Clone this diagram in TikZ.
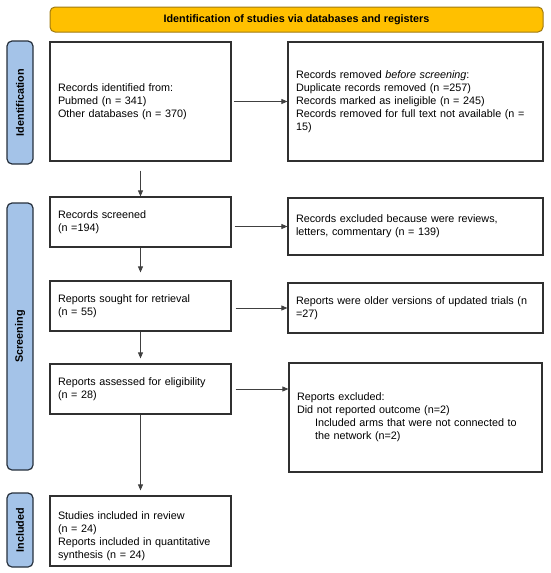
\documentclass[tikz,border=0pt]{standalone}
\usepackage{fontspec}
\setmainfont{Liberation Sans}
\usetikzlibrary{arrows.meta}
\definecolor{bannerfill}{HTML}{FFC000}
\definecolor{bannerline}{HTML}{A07A10}
\definecolor{barfill}{HTML}{A4C3E8}
\definecolor{barline}{HTML}{27313D}
\definecolor{boxline}{HTML}{303030}
\definecolor{arrowline}{HTML}{404040}
\begin{document}
\begin{tikzpicture}[x=1pt,y=-1pt,
  box/.style={draw=boxline, line width=1.2pt, fill=white, inner xsep=8pt, inner ysep=0pt,
    align=left, font=\fontsize{10.8}{13}\selectfont},
  txt/.style={inner sep=0pt, align=left, font=\fontsize{10.8}{13}\selectfont},
  arr/.style={draw=arrowline, line width=0.8pt, -{Triangle[length=6pt,width=5pt]}},
  bar/.style={draw=barline, fill=barfill, line width=1.2pt, rounded corners=5pt,
    minimum height=26pt, inner sep=0pt, font=\bfseries\fontsize{10.8}{12}\selectfont},
  banner/.style={draw=bannerline, fill=bannerfill, line width=1pt, rounded corners=5pt,
    minimum width=493pt, minimum height=25pt, inner sep=0pt,
    font=\bfseries\fontsize{10.8}{12}\selectfont}]
\useasboundingbox (0,0) rectangle (550,573);
\fill[white] (0,0) rectangle (550,573);

\node[banner] (ban) at (296.5,19.5) {Identification of studies via databases and registers};

\node[bar, rotate=90, minimum width=123pt] (sid) at (20,102.5) {Identification};
\node[bar, rotate=90, minimum width=267pt] (sscr) at (20,336.5) {Screening};
\node[bar, rotate=90, minimum width=74pt] (sinc) at (20,530) {Included};

\node[box, minimum width=181pt, minimum height=119pt, text width=165pt] (b1) at (140.5,101.5)
  {Records identified from:\\Pubmed (n = 341)\\Other databases (n = 370)};
\node[box, minimum width=255pt, minimum height=119pt, text width=239pt] (r1) at (415.5,101.5)
  {Records removed \textit{before screening}:\\Duplicate records removed (n =257)\\Records marked as ineligible (n = 245)\\Records removed for full text not available (n =\\15)};

\node[box, minimum width=181pt, minimum height=50pt, text width=165pt] (b2) at (140.5,222)
  {Records screened\\(n =194)};
\node[box, minimum width=255pt, minimum height=57pt, text width=239pt] (r2) at (415.5,226.5)
  {Records excluded because were reviews,\\letters, commentary (n = 139)};

\node[box, minimum width=181pt, minimum height=50pt, text width=165pt] (b3) at (140.5,306)
  {Reports sought for retrieval\\(n = 55)};
\node[box, minimum width=255pt, minimum height=50pt, text width=239pt] (r3) at (415.5,308)
  {Reports were older versions of updated trials (n\\=27)};

\node[box, minimum width=181pt, minimum height=50pt, text width=165pt] (b4) at (140.5,389)
  {Reports assessed for eligibility\\(n = 28)};
\node[box, minimum width=253pt, minimum height=109pt, text width=237pt] (r4) at (415.5,417.5)
  {Reports excluded:\\Did not reported outcome (n=2)\\\hspace*{18pt}Included arms that were not connected to\\\hspace*{18pt}the network (n=2)};

\node[box, minimum width=181pt, minimum height=70pt] (b5) at (140.5,531) {};
\node[txt, text width=165pt] (b5t) at (140.5,536.5)
  {Studies included in review\\(n = 24)\\Reports included in quantitative\\synthesis (n = 24)};

\draw[arr, shorten <=2pt] (b1.east) -- (r1.west);
\draw[arr, shorten <=3pt] (b2.east |- r2.west) -- (r2.west);
\draw[arr, shorten <=4pt] (b3.east |- r3.west) -- (r3.west);
\draw[arr, shorten <=4pt] (b4.east) -- (b4.east -| r4.west);

\draw[arr, shorten <=9pt] (b1.south) -- (b2.north);
\draw[arr, shorten >=8pt] (b2.south) -- (b3.north);
\draw[arr, shorten >=5pt] (b3.south) -- (b4.north);
\draw[arr, shorten >=5pt] (b4.south) -- (b5.north);
\end{tikzpicture}
\end{document}
